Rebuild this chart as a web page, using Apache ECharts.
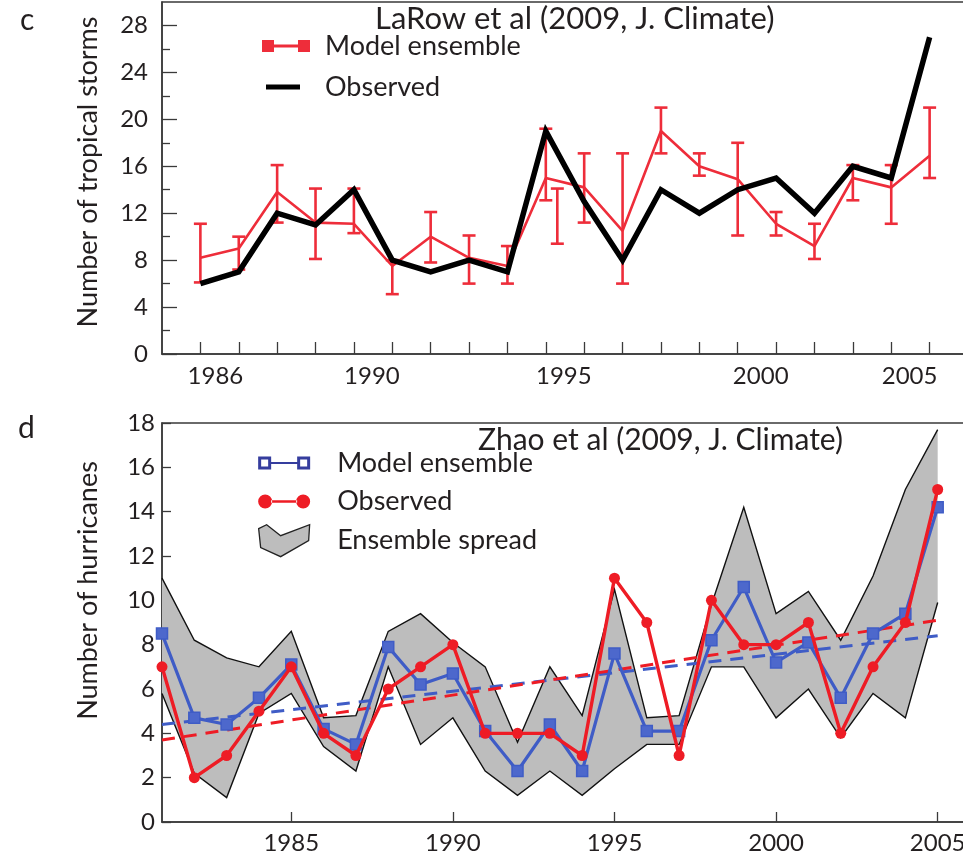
<!DOCTYPE html>
<html>
<head>
<meta charset="utf-8">
<script src="https://cdn.jsdelivr.net/npm/echarts@6/dist/echarts.min.js"></script>
<style>
html,body{margin:0;padding:0;background:#fff;}
#chart{width:963px;height:858px;}
</style>
</head>
<body>
<div id="chart"></div>
<script>
// ---------- Panel c: tropical storms (LaRow et al 2009) ----------
const stormYears = [1986,1987,1988,1989,1990,1991,1992,1993,1994,1995,1996,1997,1998,1999,2000,2001,2002,2003,2004,2005];
const stormObserved = [6,7,12,11,14,8,7,8,7,19,13,8,14,12,14,15,12,16,15,27];
const stormModel = [8.2,9.0,13.8,11.2,11.1,7.5,10.0,8.2,7.5,15.0,14.2,10.5,19.0,16.0,14.9,11.1,9.2,15.0,14.2,16.9];
const stormModelLow = [6.1,7.2,11.2,8.1,10.3,5.1,7.8,6.0,6.0,13.1,11.2,6.0,17.1,15.2,10.1,10.1,8.1,13.1,11.1,15.0];
const stormModelHigh = [11.1,10.0,16.1,14.1,14.1,8.0,12.1,10.1,9.2,19.2,17.1,17.1,21.0,17.1,18.0,12.1,11.1,16.1,16.1,21.0];
// extra error bar drawn just after 1995 in the original
const stormExtraBarYear = [1995.3];
const stormExtraBarLow = [9.4];
const stormExtraBarHigh = [14.1];
const stormXLabels = [1986,1990,1995,2000,2005];
const stormYMajor = [0,4,8,12,16,20,24,28];
const stormYMinor = [2,6,10,14,18,22,26];

// ---------- Panel d: hurricanes (Zhao et al 2009) ----------
const hurYears = [1981,1982,1983,1984,1985,1986,1987,1988,1989,1990,1991,1992,1993,1994,1995,1996,1997,1998,1999,2000,2001,2002,2003,2004,2005];
const hurObserved = [7,2,3,5,7,4,3,6,7,8,4,4,4,3,11,9,3,10,8,8,9,4,7,9,15];
const hurModel = [8.5,4.7,4.4,5.6,7.1,4.2,3.5,7.9,6.2,6.7,4.1,2.3,4.4,2.3,7.6,4.1,4.1,8.2,10.6,7.2,8.1,5.6,8.5,9.4,14.2];
const spreadHigh = [11.0,8.2,7.4,7.0,8.6,4.7,4.8,8.6,9.4,8.1,7.0,3.6,7.0,4.8,10.5,4.7,4.8,9.8,14.2,9.4,10.4,8.2,11.1,15.0,17.7];
const spreadLow = [5.8,2.2,1.1,4.9,5.8,3.4,2.3,7.0,3.5,4.7,2.3,1.2,2.3,1.2,2.4,3.5,3.5,7.0,7.0,4.7,6.0,3.8,5.8,4.7,9.9];
const trendYears = [1981,2005];
const trendModel = [4.4,8.4];
const trendObserved = [3.7,9.1];
const hurXLabels = [1985,1990,1995,2000,2005];

// ---------- styling ----------
const FONT = 'Lato';
const TXT = '#231f20';
const AX = '#3a3a3a';
const RED1 = '#ee2d3a';
const RED2 = '#ee1c25';
const BLUE = '#3f5cc6';
const GREY = '#bdbdbd';

const pairs = (xs, ys) => xs.map((x, i) => [x, ys[i]]);
const triples = (xs, a, b) => xs.map((x, i) => [x, a[i], b[i]]);

// label offsets of the original top axis labels (pixels)
const stormLabelShift = {1986: 15, 1990: 18, 1995: 18, 2000: 23, 2005: -20};
const stormRich = {};
stormXLabels.forEach(y => {
  const s = stormLabelShift[y] || 0;
  stormRich['y' + y] = {
    fontSize: 24, fontFamily: FONT, color: TXT, lineHeight: 24,
    padding: s >= 0 ? [0, 0, 0, 2 * s] : [0, -2 * s, 0, 0]
  };
});

function errorBarItem(params, api) {
  const x = api.value(0), lo = api.value(1), hi = api.value(2);
  const pLo = api.coord([x, lo]);
  const pHi = api.coord([x, hi]);
  const hw = 6.5;
  const style = {stroke: RED1, lineWidth: 2.6, fill: null};
  return {
    type: 'group',
    children: [
      {type: 'line', shape: {x1: pLo[0], y1: pLo[1], x2: pHi[0], y2: pHi[1]}, style},
      {type: 'line', shape: {x1: pLo[0] - hw, y1: pLo[1], x2: pLo[0] + hw, y2: pLo[1]}, style},
      {type: 'line', shape: {x1: pHi[0] - hw, y1: pHi[1], x2: pHi[0] + hw, y2: pHi[1]}, style}
    ]
  };
}

function spreadBand(params, api) {
  const top = hurYears.map((x, i) => api.coord([x, spreadHigh[i]]));
  const bot = hurYears.map((x, i) => api.coord([x, spreadLow[i]]));
  const poly = top.concat(bot.slice().reverse());
  const edge = {stroke: '#111', lineWidth: 1.4, fill: null};
  return {
    type: 'group',
    children: [
      {type: 'polygon', shape: {points: poly}, style: {fill: GREY, stroke: null}},
      {type: 'polyline', shape: {points: top}, style: edge},
      {type: 'polyline', shape: {points: bot}, style: edge}
    ]
  };
}

const chart = echarts.init(document.getElementById('chart'), null, {renderer: 'canvas'});

const axisLineStyle = {color: AX, width: 1.5};
const labelStyle = {fontSize: 24, fontFamily: FONT, color: TXT};

const option = {
  animation: false,
  backgroundColor: '#fff',
  textStyle: {fontFamily: FONT},
  title: [
    {text: 'c', left: 20, top: 5, padding: 0, textStyle: {fontSize: 30, fontWeight: 'normal', fontFamily: FONT, color: TXT, lineHeight: 30}},
    {text: 'LaRow et al (2009, J. Climate)', left: 375, top: 3, padding: 0, textStyle: {fontSize: 31, fontWeight: 'normal', fontFamily: FONT, color: TXT, lineHeight: 31}},
    {text: 'd', left: 18, top: 413, padding: 0, textStyle: {fontSize: 30, fontWeight: 'normal', fontFamily: FONT, color: TXT, lineHeight: 30}},
    {text: 'Zhao et al (2009, J. Climate)', left: 478, top: 425, padding: 0, textStyle: {fontSize: 30, fontWeight: 'normal', fontFamily: FONT, color: TXT, lineHeight: 30}}
  ],
  legend: [
    {
      orient: 'vertical', left: 262, top: 31, padding: 0,
      itemWidth: 48, itemHeight: 14, itemGap: 11, selectedMode: false,
      textStyle: {fontSize: 27, fontFamily: FONT, color: TXT, lineHeight: 30, padding: [0, 0, 0, 10]},
      data: [
        {name: 'Model ensemble', icon: 'path://M0,0h12v12h-12z M12,4.5h24v3h-24z M36,0h12v12h-12z',
         itemStyle: {color: RED1, borderWidth: 0}},
        {name: 'Observed', icon: 'path://M0,0 M48,14 M4,4.5h34v5h-34z',
         itemStyle: {color: '#000', borderWidth: 0}}
      ]
    },
    {
      orient: 'vertical', left: 258, top: 447, padding: 0,
      itemWidth: 52, itemHeight: 32, itemGap: 6.5, selectedMode: false,
      textStyle: {fontSize: 27, fontFamily: FONT, color: TXT, lineHeight: 32, padding: [0, 0, 0, 22]},
      data: [
        {name: 'Model ensemble', icon: 'path://M0,0H13V13H0Z M3,3V10H10V3Z M13,5.5H39V7.5H13Z M39,0H52V13H39Z M42,3V10H49V3Z',
         itemStyle: {color: '#353d9e', borderWidth: 0}},
        {name: 'Observed', icon: 'path://M0,7A7,7 0 1,0 14,7A7,7 0 1,0 0,7Z M13,5.8H39V8.2H13Z M38,7A7,7 0 1,0 52,7A7,7 0 1,0 38,7Z',
         itemStyle: {color: RED2, borderWidth: 0}},
        {name: 'Ensemble spread', icon: 'path://M0,4L8,0L22,11L51,0L50,16L22,32L2,23Z',
         itemStyle: {color: GREY, borderColor: '#222', borderWidth: 1.3}}
      ]
    }
  ],
  grid: [
    {left: 162, top: 2, right: -5, bottom: 504, show: true, borderColor: AX, borderWidth: 1.5,
     backgroundColor: 'transparent', containLabel: false, outerBoundsMode: 'none'},
    {left: 162, top: 423, right: -7, bottom: 36, show: true, borderColor: AX, borderWidth: 1.5,
     backgroundColor: 'transparent', containLabel: false, outerBoundsMode: 'none'}
  ],
  xAxis: [
    {
      gridIndex: 0, type: 'value', min: 1985, max: 2006, interval: 1,
      axisLine: {show: true, lineStyle: axisLineStyle},
      axisTick: {show: true, inside: true, length: 12, customValues: stormYears, lineStyle: {color: AX, width: 1.3}},
      axisLabel: {show: true, customValues: stormXLabels, margin: 10,
        formatter: v => '{y' + v + '|' + v + '}', rich: stormRich, fontSize: 24, fontFamily: FONT, color: TXT},
      splitLine: {show: false}
    },
    {
      gridIndex: 1, type: 'value', min: 1981, max: 2006,
      axisLine: {show: true, lineStyle: axisLineStyle},
      axisTick: {show: true, inside: true, length: 10, customValues: hurXLabels, lineStyle: {color: AX, width: 1.3}},
      axisLabel: Object.assign({show: true, customValues: hurXLabels, margin: 9, lineHeight: 24,
        formatter: v => String(v)}, labelStyle),
      splitLine: {show: false}
    }
  ],
  yAxis: [
    {
      gridIndex: 0, type: 'value', min: 0, max: 30, position: 'left',
      name: 'Number of tropical storms', nameLocation: 'middle', nameGap: 60, nameRotate: 90,
      nameTextStyle: {fontSize: 27, fontFamily: FONT, color: TXT, padding: [0, 0, 0, 12]},
      axisLine: {show: true, lineStyle: axisLineStyle},
      axisTick: {show: true, inside: true, length: 15, customValues: stormYMajor, lineStyle: {color: AX, width: 1.3}},
      axisLabel: Object.assign({show: true, customValues: stormYMajor, margin: 14, formatter: v => String(v)}, labelStyle),
      splitLine: {show: false}
    },
    {
      gridIndex: 0, type: 'value', min: 0, max: 30, position: 'left',
      axisLine: {show: false},
      axisTick: {show: true, inside: true, length: 8, customValues: stormYMinor, lineStyle: {color: AX, width: 1.3}},
      axisLabel: {show: false},
      splitLine: {show: false}
    },
    {
      gridIndex: 1, type: 'value', min: 0, max: 18, interval: 2, position: 'left',
      name: 'Number of hurricanes', nameLocation: 'middle', nameGap: 60, nameRotate: 90,
      nameTextStyle: {fontSize: 27, fontFamily: FONT, color: TXT, padding: [0, 0, 0, 64]},
      axisLine: {show: true, lineStyle: axisLineStyle},
      axisTick: {show: true, inside: true, length: 9, lineStyle: {color: AX, width: 1.3}},
      axisLabel: Object.assign({show: true, margin: 7, formatter: v => String(v)}, labelStyle),
      splitLine: {show: false}
    }
  ],
  series: [
    // ----- panel c -----
    {
      name: 'Model ensemble bars', type: 'custom', xAxisIndex: 0, yAxisIndex: 0,
      renderItem: errorBarItem, encode: {x: 0, y: [1, 2]},
      data: triples(stormYears, stormModelLow, stormModelHigh).concat(triples(stormExtraBarYear, stormExtraBarLow, stormExtraBarHigh)),
      z: 2
    },
    {
      name: 'Model ensemble', type: 'line', xAxisIndex: 0, yAxisIndex: 0,
      data: pairs(stormYears, stormModel), showSymbol: false, symbol: 'none',
      lineStyle: {color: RED1, width: 2.6}, itemStyle: {color: RED1}, z: 3
    },
    {
      name: 'Observed', type: 'line', xAxisIndex: 0, yAxisIndex: 0,
      data: pairs(stormYears, stormObserved), showSymbol: false, symbol: 'none',
      lineStyle: {color: '#000', width: 5.5, join: 'miter'}, itemStyle: {color: '#000'}, z: 4
    },
    // ----- panel d -----
    {
      name: 'Ensemble spread', type: 'custom', xAxisIndex: 1, yAxisIndex: 2,
      renderItem: spreadBand, encode: {x: 0, y: 1},
      data: [[hurYears[0], spreadLow[0]]],
      itemStyle: {color: GREY}, z: 1
    },
    {
      name: 'Model trend', type: 'line', xAxisIndex: 1, yAxisIndex: 2,
      data: pairs(trendYears, trendModel), symbol: 'none',
      lineStyle: {color: BLUE, width: 3, type: [13, 9]}, z: 3
    },
    {
      name: 'Observed trend', type: 'line', xAxisIndex: 1, yAxisIndex: 2,
      data: pairs(trendYears, trendObserved), symbol: 'none',
      lineStyle: {color: RED2, width: 3, type: [13, 9]}, z: 3
    },
    {
      name: 'Model ensemble', type: 'line', xAxisIndex: 1, yAxisIndex: 2,
      data: pairs(hurYears, hurModel), symbol: 'rect', symbolSize: 11, showSymbol: true,
      lineStyle: {color: BLUE, width: 3.2}, itemStyle: {color: '#4d68cc', borderColor: BLUE, borderWidth: 1.5}, z: 4
    },
    {
      name: 'Observed', type: 'line', xAxisIndex: 1, yAxisIndex: 2,
      data: pairs(hurYears, hurObserved), symbol: 'circle', symbolSize: 11, showSymbol: true,
      lineStyle: {color: RED2, width: 3.4}, itemStyle: {color: RED2}, z: 5
    }
  ]
};

chart.setOption(option);
</script>
</body>
</html>
